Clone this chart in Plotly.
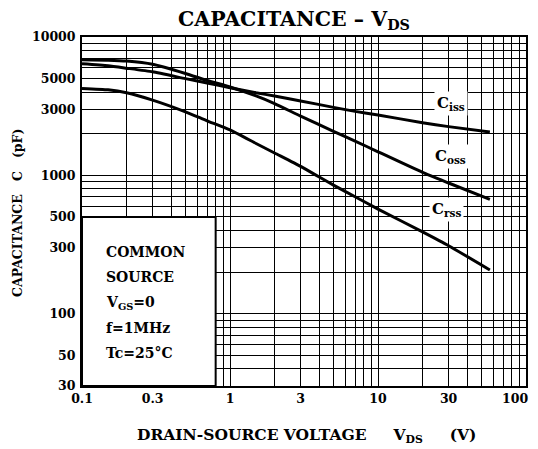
import math
import plotly.graph_objects as go

# ---- data ----
vds = [0.1, 0.15, 0.2, 0.3, 0.5, 0.7, 1.0, 1.5, 2, 3, 5, 7, 10, 20, 30, 57]
ciss = [6400, 6200, 5950, 5600, 5000, 4650, 4300, 3950, 3750, 3450, 3100, 2900, 2730, 2400, 2250, 2060]
coss = [6850, 6800, 6700, 6350, 5450, 4850, 4350, 3750, 3300, 2680, 2080, 1770, 1480, 1050, 880, 670]
crss = [4250, 4150, 3950, 3500, 2880, 2480, 2130, 1700, 1450, 1160, 850, 700, 570, 390, 310, 207]

series_names = ["C<sub>iss</sub>", "C<sub>oss</sub>", "C<sub>rss</sub>"]
label_pos_v = [31, 31, 29]           # label x (V)
label_pos_c = [3330, 1360, 570]      # label y (pF)

x_labels = [0.1, 0.3, 1, 3, 10, 30, 100]
x_label_text = ["0.1", "0.3", "1", "3", "10", "30", "100"]
y_labels = [30, 50, 100, 300, 500, 1000, 3000, 5000, 10000]
y_label_text = ["30", "50", "100", "300", "500", "1000", "3000", "5000", "10000"]

box_lines = ["COMMON", "SOURCE", "V<sub>GS</sub>=0", "f=1MHz", "Tc=25°C"]
box_x = [0.1, 0.8]
box_y = [30, 500]

X_RANGE = [-1, 2]
Y_RANGE = [math.log10(30), 4]

def grid_vals(lo_exp, hi_exp, vmin, vmax):
    vals = []
    for e in range(lo_exp, hi_exp + 1):
        for k in range(1, 10):
            v = round(k * 10 ** e, 6)
            if vmin - 1e-9 <= v <= vmax + 1e-9:
                vals.append(v)
    return vals

xg = grid_vals(-1, 2, 0.1, 100)
yg = grid_vals(1, 4, 30, 10000)

def fmt(vals, labels, texts, skip=()):
    out = []
    for v in vals:
        t = ""
        for lv, lt in zip(labels, texts):
            if abs(v - lv) < 1e-9 * max(1, lv) and lv not in skip:
                t = lt
        out.append(t)
    return out

def px(v):
    return (math.log10(v) - X_RANGE[0]) / (X_RANGE[1] - X_RANGE[0])

def py(v):
    return (math.log10(v) - Y_RANGE[0]) / (Y_RANGE[1] - Y_RANGE[0])

FONT = "DejaVu Serif"
OFF = 8                      # page body margin in the browser
SW, SH = 538, 449            # screen size
W, H = SW - OFF, SH - OFF    # figure size
# plot area in screen pixels
SL, SR, ST, SB = 82, 526, 37, 386
ML, MT = SL - OFF, ST - OFF
MR = W - (SR - OFF)
MB = H - (SB - OFF)
plot_h = SB - ST
plot_w = SR - SL

def sx(x):  # screen x -> paper
    return (x - SL) / plot_w

def sy(y):  # screen y -> paper
    return (SB - y) / plot_h

TICKFONT = dict(family=FONT, size=12.5, weight="bold", color="black")

fig = go.Figure()
for ys in (ciss, coss, crss):
    fig.add_trace(go.Scatter(x=vds, y=ys, mode="lines",
                             line=dict(color="black", width=3, shape="spline", smoothing=0.5),
                             showlegend=False, hoverinfo="skip"))

fig.update_layout(
    width=W, height=H,
    margin=dict(l=ML, r=MR, t=MT, b=MB, autoexpand=False),
    paper_bgcolor="white", plot_bgcolor="white",
    font=dict(family=FONT, color="black", size=12, weight="bold"),
    title=dict(text="CAPACITANCE – V<sub>DS</sub>", x=(294 - OFF) / W, xanchor="center", yref="container",
               y=1 - (19 - OFF) / H, yanchor="middle",
               font=dict(family=FONT, size=20.5, weight="bold", color="black")),
    showlegend=False,
)
# the last x label sits on the page edge; it is drawn as an annotation anchored inside the page
last_x = x_labels[-1]
fig.update_xaxes(type="log", range=X_RANGE, tickmode="array", tickvals=xg,
                 ticktext=fmt(xg, x_labels, x_label_text, skip=(last_x,)),
                 showgrid=True, gridcolor="black", gridwidth=1.4, showline=True, linecolor="black", linewidth=2,
                 mirror=True, ticks="", zeroline=False, automargin=False, ticklabeloverflow="allow",
                 tickfont=TICKFONT)
fig.update_yaxes(type="log", range=Y_RANGE, tickmode="array", tickvals=yg, ticktext=fmt(yg, y_labels, y_label_text),
                 showgrid=True, gridcolor="black", gridwidth=1.4, showline=True, linecolor="black", linewidth=2,
                 mirror=True, ticks="", zeroline=False, ticklabelstandoff=2, automargin=False,
                 ticklabeloverflow="allow", tickfont=TICKFONT)
fig.add_annotation(xref="paper", yref="paper", x=sx(SW - OFF), y=sy(398), xanchor="right", yanchor="middle",
                   text=x_label_text[-1], showarrow=False, font=TICKFONT)

# conditions box
fig.add_shape(type="rect", xref="paper", yref="paper", x0=px(box_x[0]), x1=px(box_x[1]),
              y0=py(box_y[0]), y1=py(box_y[1]),
              fillcolor="white", line=dict(color="black", width=2), layer="above")
for i, t in enumerate(box_lines):
    ypx = 252 + i * 25.3
    fig.add_annotation(xref="paper", yref="paper", x=sx(104), y=sy(ypx),
                       xanchor="left", yanchor="middle",
                       text=t, showarrow=False, font=dict(family=FONT, size=14, weight="bold", color="black"))

# curve labels
for name, lv, lc in zip(series_names, label_pos_v, label_pos_c):
    fig.add_annotation(xref="paper", yref="paper", x=px(lv), y=py(lc), text=name, showarrow=False,
                       bgcolor="white", borderpad=2, xanchor="center", yanchor="middle",
                       font=dict(family=FONT, size=15, weight="bold", color="black"))

# axis titles
NB = "\u00a0"
fig.add_annotation(xref="paper", yref="paper", x=sx(306), y=sy(435),
                   xanchor="center", yanchor="middle",
                   text="DRAIN-SOURCE VOLTAGE" + NB * 5 + "V<sub>DS</sub>" + NB * 5 + "(V)", showarrow=False,
                   font=dict(family=FONT, size=15.5, weight="bold", color="black"))
fig.add_annotation(xref="paper", yref="paper", x=sx(17), y=sy(213),
                   xanchor="center", yanchor="middle", textangle=-90,
                   text="CAPACITANCE" + NB * 3 + "C" + NB * 3 + "(pF)", showarrow=False,
                   font=dict(family=FONT, size=12.5, weight="bold", color="black"))

fig.write_html("out.html")
